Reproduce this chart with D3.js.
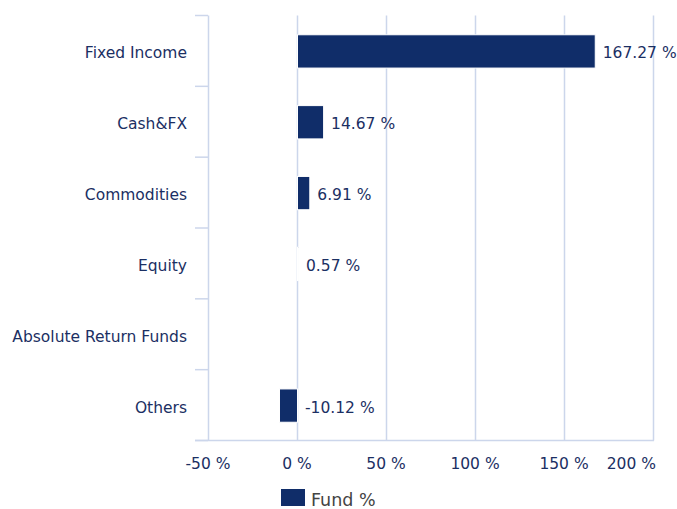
<!DOCTYPE html>
<html>
<head>
<meta charset="utf-8">
<script src="https://cdn.jsdelivr.net/npm/d3@7"></script>
<style>
  body { margin: 0; background: #fff; }
  svg { display: block; font-family: "DejaVu Sans", Verdana, sans-serif; }
</style>
</head>
<body>
<div id="chart"></div>
<script>
var categories = ["Fixed Income", "Cash&FX", "Commodities", "Equity", "Absolute Return Funds", "Others"];
var values = [167.27, 14.67, 6.91, 0.57, null, -10.12];
var xTicks = [-50, 0, 50, 100, 150, 200];
var seriesName = "Fund %";

var width = 677, height = 509;
var margin = { top: 15.5, right: 24, bottom: 68.5, left: 208 };

var svg = d3.select("#chart").append("svg")
  .attr("width", width)
  .attr("height", height);

var x = d3.scaleLinear().domain([-50, 200]).range([margin.left, width - margin.right]);
var y = d3.scaleBand().domain(categories).range([margin.top, height - margin.bottom]).paddingInner(0.53).paddingOuter(0.265);
var yb = d3.scaleBand().domain(categories).range([margin.top, height - margin.bottom]);

var gridColor = "#ccd6eb";
var textColor = "#1b2f63";
var barColor = "#102d69";
var fontSize = "15.5px";

// vertical grid lines
svg.append("g").selectAll("line")
  .data(xTicks)
  .enter().append("line")
  .attr("x1", function (d) { return x(d) + 0.5; })
  .attr("x2", function (d) { return x(d) + 0.5; })
  .attr("y1", margin.top)
  .attr("y2", height - margin.bottom)
  .attr("stroke", gridColor)
  .attr("stroke-width", 1.5);

// category tick marks
var bounds = categories.map(function (c) { return yb(c); }).concat([height - margin.bottom]);
svg.append("g").selectAll("line")
  .data(bounds)
  .enter().append("line")
  .attr("x1", margin.left - 13)
  .attr("x2", margin.left)
  .attr("y1", function (d) { return d; })
  .attr("y2", function (d) { return d; })
  .attr("stroke", gridColor)
  .attr("stroke-width", 1.5);

// bottom axis line
svg.append("line")
  .attr("x1", margin.left - 13)
  .attr("x2", x(200) + 1)
  .attr("y1", height - margin.bottom)
  .attr("y2", height - margin.bottom)
  .attr("stroke", gridColor)
  .attr("stroke-width", 1.5);

// x tick labels (last one kept inside the plot edge)
var last = xTicks[xTicks.length - 1];
svg.append("g").selectAll("text")
  .data(xTicks)
  .enter().append("text")
  .attr("x", function (d) { return d === last ? x(d) + 3 : x(d); })
  .attr("y", height - margin.bottom + 23)
  .attr("dy", "0.35em")
  .attr("text-anchor", function (d) { return d === last ? "end" : "middle"; })
  .attr("fill", textColor)
  .style("font-size", fontSize)
  .text(function (d) { return d + " %"; });

// category labels
svg.append("g").selectAll("text")
  .data(categories)
  .enter().append("text")
  .attr("x", margin.left - 21)
  .attr("y", function (d) { return yb(d) + yb.bandwidth() / 2 + 2; })
  .attr("dy", "0.35em")
  .attr("text-anchor", "end")
  .attr("fill", textColor)
  .style("font-size", fontSize)
  .text(function (d) { return d; });

var data = categories.map(function (c, i) { return { cat: c, v: values[i] }; })
  .filter(function (d) { return d.v !== null; });

// bars
svg.append("g").selectAll("rect")
  .data(data)
  .enter().append("rect")
  .attr("x", function (d) { return Math.min(x(0), x(d.v)) + 0.5; })
  .attr("y", function (d) { return y(d.cat) + 0.5; })
  .attr("width", function (d) { return Math.abs(x(d.v) - x(0)); })
  .attr("height", y.bandwidth())
  .attr("fill", barColor)
  .attr("stroke", "#fff")
  .attr("stroke-width", 1);

// value labels
svg.append("g").selectAll("text")
  .data(data)
  .enter().append("text")
  .attr("x", function (d) { return Math.max(x(0), x(d.v)) + 8; })
  .attr("y", function (d) { return y(d.cat) + y.bandwidth() / 2 + 2; })
  .attr("dy", "0.35em")
  .attr("fill", textColor)
  .style("font-size", fontSize)
  .text(function (d) { return d.v.toFixed(2) + " %"; });

// legend
var legend = svg.append("g").attr("transform", "translate(281,489)");
legend.append("rect")
  .attr("width", 24)
  .attr("height", 17)
  .attr("fill", barColor);
legend.append("text")
  .attr("x", 30)
  .attr("y", 11)
  .attr("dy", "0.35em")
  .attr("fill", "#444")
  .style("font-size", "17.5px")
  .text(seriesName);
</script>
</body>
</html>
